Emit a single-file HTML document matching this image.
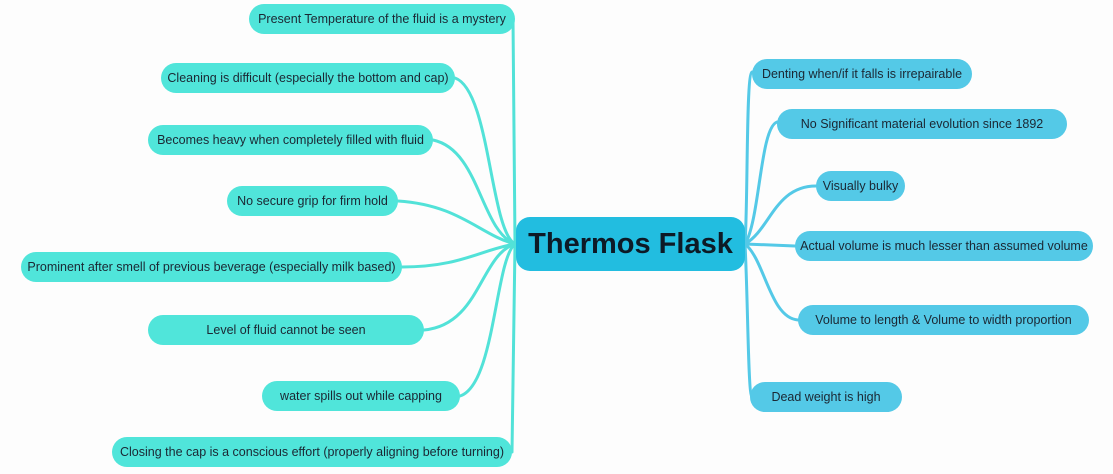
<!DOCTYPE html>
<html><head><meta charset="utf-8"><style>
body{margin:0;width:1113px;height:474px;background:#fdfdfd;position:relative;overflow:hidden;font-family:"Liberation Sans",sans-serif}
.n{position:absolute;height:30px;line-height:30px;border-radius:15px;font-size:12.5px;color:#1b2733;text-align:center;white-space:nowrap}
.l{background:#50e5da}
.r{background:#54c9e7}
#c{position:absolute;left:516px;top:217px;width:229px;height:54px;line-height:54px;border-radius:14px;background:#22bde0;font-size:29px;font-weight:bold;color:#0d1a26;text-align:center}
svg{position:absolute;left:0;top:0}
</style></head><body>
<svg width="1113" height="474" fill="none" stroke-width="3" stroke-linecap="round">
<g stroke="#52e2d8">
<path d="M513 19 L515 244"/>
<path d="M455 78 C490 90,490 230,515 244"/>
<path d="M433 140 C480 150,480 230,515 244"/>
<path d="M398 201 C460 205,480 235,515 244"/>
<path d="M402 267 C460 267,480 250,515 244"/>
<path d="M424 330 C480 325,480 255,515 244"/>
<path d="M460 396 C495 385,495 260,515 244"/>
<path d="M512 452 L515 244"/>
</g>
<g stroke="#54c9e7">
<path d="M752 72 C746 74,748 200,745 244"/>
<path d="M777 122 C760 128,760 220,745 244"/>
<path d="M816 186 C775 186,770 230,745 244"/>
<path d="M795 246 L745 244"/>
<path d="M798 320 C770 318,765 260,745 244"/>
<path d="M752 397 C748 395,748 300,745 244"/>
</g>
</svg>
<div class="n l" style="left:249px;top:4px;width:266px">Present Temperature of the fluid is a mystery</div>
<div class="n l" style="left:161px;top:63px;width:294px">Cleaning is difficult (especially the bottom and cap)</div>
<div class="n l" style="left:148px;top:125px;width:285px">Becomes heavy when completely filled with fluid</div>
<div class="n l" style="left:227px;top:186px;width:171px">No secure grip for firm hold</div>
<div class="n l" style="left:21px;top:252px;width:381px">Prominent after smell of previous beverage (especially milk based)</div>
<div class="n l" style="left:148px;top:315px;width:276px">Level of fluid cannot be seen</div>
<div class="n l" style="left:262px;top:381px;width:198px">water spills out while capping</div>
<div class="n l" style="left:112px;top:437px;width:400px">Closing the cap is a conscious effort (properly aligning before turning)</div>
<div id="c">Thermos Flask</div>
<div class="n r" style="left:752px;top:59px;width:220px">Denting when/if it falls is irrepairable</div>
<div class="n r" style="left:777px;top:109px;width:290px">No Significant material evolution since 1892</div>
<div class="n r" style="left:816px;top:171px;width:89px">Visually bulky</div>
<div class="n r" style="left:795px;top:231px;width:298px">Actual volume is much lesser than assumed volume</div>
<div class="n r" style="left:798px;top:305px;width:291px">Volume to length &amp; Volume to width proportion</div>
<div class="n r" style="left:750px;top:382px;width:152px">Dead weight is high</div>
</body></html>
